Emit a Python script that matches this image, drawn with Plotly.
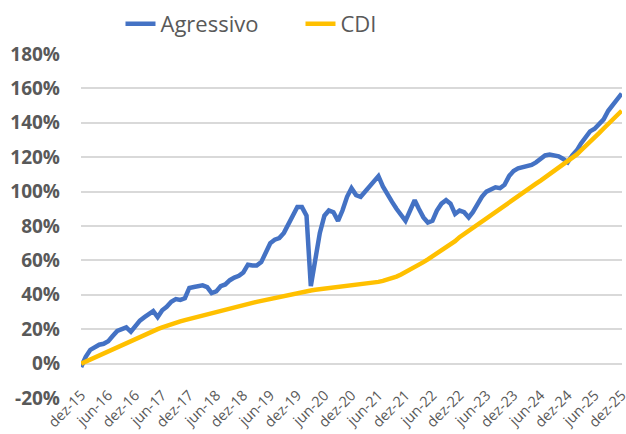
import pandas as pd
import plotly.graph_objects as go

# -----------------------------------------
# DATA - cumulative return, monthly (dez-15 .. dez-25)
# -----------------------------------------
dates = pd.date_range("2015-12-01", periods=121, freq="MS")

agressivo = [
    -2, 4, 8, 9.5, 11, 11.5, 13, 16, 19, 20, 21, 18.5, 22,
    25, 27, 28.5, 30.5, 27, 31, 33, 36, 37.5, 37, 38, 44,
    44.5, 45, 45.5, 44.5, 41, 42, 45, 46, 48.5, 50, 51, 53,
    57.5, 57, 57, 59, 65, 70, 72, 73, 76, 81, 86, 91,
    91, 86, 45, 63, 76, 86, 89, 88, 83, 89, 97, 102,
    98, 97, 100, 103, 106, 109, 103, 98, 94, 90, 86, 83,
    89, 95, 90, 85, 82, 83, 89, 93, 95, 93, 87, 89,
    88, 85, 88, 93, 97, 100, 101, 102.5, 102, 104, 109, 112,
    113.5, 114, 115, 115.5, 117, 119, 121, 121.5, 121, 120.5, 119, 117,
    121, 124, 128, 132, 135, 136.5, 139, 142, 147, 150, 153, 157,
]

cdi = [
    0, 1.2, 2.5, 3.8, 5, 6.3, 7.6, 8.8, 10, 11.2, 12.4, 13.6, 14.8,
    16, 17, 18, 19, 20, 21, 22, 22.8, 23.7, 24.5, 25.3, 26,
    26.7, 27.4, 28.1, 28.8, 29.5, 30.2, 30.9, 31.5, 32.2, 32.8, 33.5, 34.1,
    34.7, 35.3, 35.9, 36.5, 37.1, 37.7, 38.3, 38.9, 39.5, 40, 40.6, 41.2,
    41.7, 42.1, 42.5, 42.9, 43.2, 43.5, 43.8, 44.1, 44.4, 44.7, 45, 45.3,
    45.6, 45.9, 46.2, 46.6, 47, 47.5, 48.1, 48.8, 49.6, 50.6, 51.8, 53.1,
    54.5, 56, 57.5, 59, 60.6, 62.3, 64, 65.8, 67.6, 69.4, 71.2, 73.5,
    75.4, 77.3, 79.2, 81, 82.8, 84.6, 86.4, 88.2, 90, 91.8, 93.7, 95.6,
    97.4, 99.2, 101, 102.8, 104.6, 106.4, 108.2, 110, 111.8, 113.6, 115.4, 117.3,
    119.4, 121.6, 123.9, 126.3, 128.8, 131.4, 134, 136.7, 139.4, 142, 144.6, 147,
]

tick_dates = pd.date_range("2015-12-01", "2025-12-01", freq="6MS")
tick_text = [
    "dez-15", "jun-16", "dez-16", "jun-17", "dez-17", "jun-18", "dez-18",
    "jun-19", "dez-19", "jun-20", "dez-20", "jun-21", "dez-21", "jun-22",
    "dez-22", "jun-23", "dez-23", "jun-24", "dez-24", "jun-25", "dez-25",
]

y_ticks = [-20, 0, 20, 40, 60, 80, 100, 120, 140, 160, 180]
y_tick_text = ["-20%", "0%", "20%", "40%", "60%", "80%", "100%",
               "120%", "140%", "160%", "180%"]

# -----------------------------------------
# CHART
# -----------------------------------------
fig = go.Figure()

fig.add_trace(go.Scatter(
    x=dates, y=agressivo, mode="lines", name="Agressivo",
    line=dict(color="#4472C4", width=4.5),
))
fig.add_trace(go.Scatter(
    x=dates, y=cdi, mode="lines", name="CDI",
    line=dict(color="#FFC000", width=4.5),
))

fig.update_layout(
    width=626, height=434,
    margin=dict(l=81, r=4, t=53, b=36),
    paper_bgcolor="white",
    plot_bgcolor="white",
    font=dict(family="Open Sans", color="#595959"),
    legend=dict(
        orientation="h", x=0.073, xanchor="left", y=1.084, yanchor="middle",
        font=dict(size=22, color="#595959"),
        entrywidth=135, entrywidthmode="pixels",
    ),
    xaxis=dict(
        # small pad at the end so the last tick (dez-25) is kept
        range=[dates[0] - pd.Timedelta(days=1), dates[-1] + pd.Timedelta(days=2)],
        tickvals=tick_dates, ticktext=tick_text,
        tickangle=-45, tickfont=dict(size=14.5),
        showgrid=False, zeroline=False, showline=False,
        ticklabelstandoff=-15,
        ticklabeloverflow="allow",
        automargin=False,
    ),
    yaxis=dict(
        range=[-20, 180], tickvals=y_ticks, ticktext=y_tick_text,
        tickfont=dict(size=19, weight="bold"),
        gridcolor="#D9D9D9", gridwidth=1.5,
        zeroline=False, showline=False,
        ticklabelstandoff=20,
        automargin=False,
    ),
)

# remove the default page margin so the chart sits at the top-left corner
fig.write_html(
    "out.html",
    config={"displayModeBar": False},
    post_script="document.body.style.margin='0';",
)
